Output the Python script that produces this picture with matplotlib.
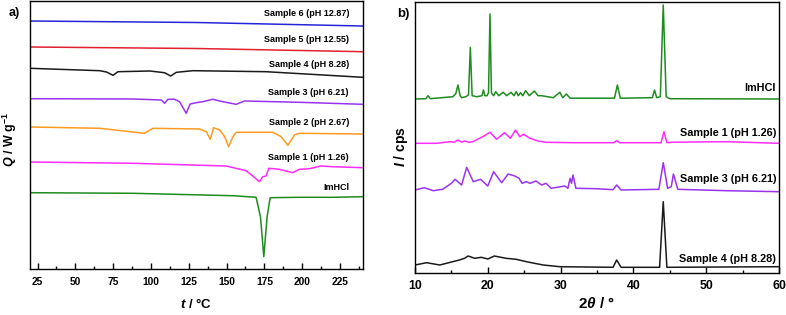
import numpy as np
import matplotlib.pyplot as plt

# Fuente tipo Arial en negrita para todo el dibujo
plt.rcParams['font.family'] = ['Liberation Sans', 'DejaVu Sans']
plt.rcParams['font.weight'] = 'bold'
plt.rcParams['mathtext.fontset'] = 'custom'
plt.rcParams['mathtext.rm'] = 'Liberation Sans:bold'
plt.rcParams['mathtext.it'] = 'Liberation Sans:bold:italic'
plt.rcParams['mathtext.bf'] = 'Liberation Sans:bold'
plt.rcParams['mathtext.default'] = 'rm'

# ---------------- Datos DSC (panel a), unidades arbitrarias ----------------
t_s6 = [20, 130, 240]
q_s6 = [248, 246.5, 243]

t_s5 = [20, 130, 240]
q_s5 = [222, 220.5, 217.3]

t_s4 = [20, 66.2, 70.6, 74.9, 78.2, 99.2, 109.0, 113.0, 116.8, 127.7, 176.1, 202.5, 240]
q_s4 = [200.7, 198.3, 197, 193.7, 197.3, 198, 196.3, 193, 196.7, 198.3, 197.3, 195, 191.7]

t_s3 = [20, 88.2, 106.9, 109.0, 111.2, 115.6, 118.9, 123.3, 125.9, 129.9, 134.3, 140.9,
        147.5, 156.3, 161.8, 198.1, 240]
q_s3 = [170.3, 170, 169, 165.7, 169.7, 169.7, 167.3, 155.7, 165, 166.3, 167.3, 169.7,
        167.3, 164.7, 168, 166.7, 164.7]

t_s2 = [20, 66.2, 95.6, 101.3, 132.2, 136.6, 139.2, 141.4, 145.4, 148.7, 151.3, 154.2,
        156.4, 180.6, 186.1, 190.5, 194.9, 198.1, 240]
q_s2 = [142, 140.7, 135.7, 140.7, 140, 137.3, 129.7, 141.3, 139, 132.3, 122.3, 132.3,
        136.7, 136.7, 132.3, 123.7, 134, 135.7, 135]

t_s1 = [20, 88.2, 149.7, 162.9, 167.3, 171.7, 173.9, 176.1, 177.9, 184.9, 193.7, 198.1,
        204.7, 212.4, 220.0, 240]
q_s1 = [107, 105.7, 103, 98.3, 93, 87.3, 92.3, 93, 100.7, 99.7, 96.3, 99.7,
        100.3, 103, 102.3, 101.3]

t_im = [20, 88.2, 154.1, 169.5, 172.4, 174.6, 176.8, 178.8, 198.1, 220, 240]
q_im = [76.3, 75.7, 73.3, 71.7, 52.3, 12.3, 52.3, 71.3, 71.7, 71.7, 72.3]

# ---------------- Datos DRX (panel b), unidades arbitrarias ----------------
th_im = [10, 11.5, 11.8, 12.1, 15.2, 15.6, 15.9, 16.2, 16.4, 17.0, 17.35, 17.6, 17.85,
         18.5, 19.2, 19.4, 19.6, 19.9, 20.1, 20.3, 20.5, 20.8, 21.1, 21.5, 22.1, 22.6,
         23.2, 23.6, 23.9, 24.2, 24.5, 24.8, 25.2, 25.7, 26.4, 26.9, 27.4, 29.0, 29.9,
         30.3, 30.8, 31.3, 37.4, 37.8, 38.2, 42.6, 42.9, 43.2, 43.7, 44.1, 44.5, 45.0, 60]
i_im = [173.7, 174, 177, 174, 176, 179, 187.7, 177, 175, 176, 178, 225.3, 177,
        176, 177, 182.7, 177, 177, 180, 258.7, 180, 177, 181, 177, 180.4, 177,
        180.4, 177, 181, 177, 180, 177, 182, 177, 181.7, 177, 177, 175, 180.4,
        175, 178.7, 174.5, 174.5, 187.7, 174.5, 175, 182.7, 175, 176, 267.7, 176, 174, 173.7]

th_s1 = [10, 13.0, 14.8, 15.4, 15.9, 16.4, 16.8, 17.4, 18.0, 18.4, 19.3, 20.3, 21.2, 22.3,
         23.1, 23.8, 24.4, 24.9, 25.8, 26.9, 28.0, 31.7, 37.3, 37.7, 38.1, 43.1, 43.8,
         44.2, 44.6, 45.5, 52.8, 60]
i_s1 = [129.4, 129.4, 131, 130.5, 132.7, 130.5, 131.7, 130.5, 131, 132.7, 136, 140.4,
        133.4, 140, 134.4, 142.7, 136, 138.4, 134.4, 131.7, 130.4, 130, 130, 132, 130,
        130, 130, 141, 130, 130.5, 131, 129.4]

th_s3 = [10, 11.3, 12.5, 13.8, 15.0, 15.5, 16.4, 17.1, 18.0, 19.0, 20.0, 20.8, 21.9, 22.8,
         23.7, 24.3, 24.7, 25.3, 25.8, 26.6, 27.4, 28.0, 28.7, 30.6, 31.0, 31.3, 31.5,
         31.7, 32.1, 34.9, 37.2, 37.7, 38.3, 43.5, 44.1, 44.7, 45.2, 45.5, 46.1, 52.8, 60]
i_s3 = [82.7, 85, 82, 83.4, 89.4, 93.4, 87.7, 105.4, 91, 93.4, 86.7, 101, 90, 98.7,
        96.7, 94.4, 89.4, 91, 89.4, 91.7, 87.7, 89.4, 84.4, 86.7, 84.4, 94.4, 89.4,
        97.7, 84.4, 84, 83, 87.7, 82.7, 83.4, 110, 84.4, 86, 98.7, 83.4, 82, 81]

th_s4 = [10, 11.6, 13.4, 16.1, 16.8, 17.3, 18.2, 19.1, 20.0, 20.9, 22.5, 23.9, 25.3, 27.6,
         29.9, 37.2, 37.7, 38.3, 43.6, 44.1, 44.6, 60]
i_s4 = [7.7, 10, 7.7, 12.7, 14.4, 16.7, 14.4, 15.4, 13.7, 16.7, 14.4, 13.4, 11, 7.7,
        6, 5.4, 12.7, 5.4, 5.4, 71, 5.4, 6]

# ---------------- Figura ----------------
fig = plt.figure(figsize=(7.86, 3.15), dpi=100)
ax1 = fig.add_axes([30 / 786, 1 - 269 / 315, 332.7 / 786, 268 / 315])
ax2 = fig.add_axes([415 / 786, 1 - 272.7 / 315, 364 / 786, 270.7 / 315])

# Panel a) DSC
curvas_a = [
    (t_s6, q_s6, '#2626d9', 'Sample 6 (pH 12.87)', 14),
    (t_s5, q_s5, '#e0222e', 'Sample 5 (pH 12.55)', 40),
    (t_s4, q_s4, '#1a1a1a', 'Sample 4 (pH 8.28)', 65),
    (t_s3, q_s3, '#9a33f0', 'Sample 3 (pH 6.21)', 92),
    (t_s2, q_s2, '#ff9a1f', 'Sample 2 (pH 2.67)', 123),
    (t_s1, q_s1, '#ff2bff', 'Sample 1 (pH 1.26)', 157),
    (t_im, q_im, '#1e8c1e', 'ImHCl', 187),
]
for t, q, c, etiqueta, ypix in curvas_a:
    ax1.plot(t, q, color=c, lw=1.1)
    fig.text(349 / 786, 1 - ypix / 315, etiqueta, fontsize=6.5, ha='right', va='center')

ax1.set_xlim(20, 240)
ax1.set_ylim(0, 268)
ax1.set_xticks([25, 50, 75, 100, 125, 150, 175, 200, 225])
ax1.set_xticks(np.arange(37.5, 240, 25), minor=True)
ax1.set_yticks([])

# Panel b) DRX
curvas_b = [
    (th_im, i_im, '#1e8c1e', 'ImHCl', 88),
    (th_s1, i_s1, '#ff2bff', 'Sample 1 (pH 1.26)', 133),
    (th_s3, i_s3, '#9a33f0', 'Sample 3 (pH 6.21)', 179),
    (th_s4, i_s4, '#1a1a1a', 'Sample 4 (pH 8.28)', 259),
]
for th, inten, c, etiqueta, ypix in curvas_b:
    ax2.plot(th, inten, color=c, lw=1.1)
    fig.text(776 / 786, 1 - ypix / 315, etiqueta, fontsize=7.8, ha='right', va='center')

ax2.set_xlim(10, 60)
ax2.set_ylim(0, 270.7)
ax2.set_xticks([10, 20, 30, 40, 50, 60])
ax2.set_xticks([15, 25, 35, 45, 55], minor=True)
ax2.set_yticks([])

for ax, fs, pad in ((ax1, 7.4, 6), (ax2, 8.8, 5)):
    ax.tick_params(axis='x', which='major', direction='in', length=4, width=1, labelsize=fs, pad=pad)
    ax.tick_params(axis='x', which='minor', direction='in', length=2.5, width=1)
    for s in ax.spines.values():
        s.set_linewidth(1.0)

# Rótulos
fig.text(14 / 786, 1 - 13 / 315, 'a)', fontsize=9, ha='center', va='center')
fig.text(403 / 786, 1 - 14 / 315, 'b)', fontsize=9.5, ha='center', va='center')
fig.text(10 / 786, 1 - 140 / 315, r'$\mathit{Q}$ / W g$^{-1}$', fontsize=9, rotation=90,
         ha='center', va='center')
fig.text(401 / 786, 1 - 147 / 315, r'$\mathit{I}$ / cps', fontsize=10, rotation=90,
         ha='center', va='center')
fig.text(196 / 786, 1 - 304 / 315, r'$\mathit{t}$ / °C', fontsize=9.5, ha='center', va='center')
fig.text(597 / 786, 1 - 303 / 315, r'2$\mathit{\theta}$ / °', fontsize=11, ha='center', va='center')

fig.savefig('out.png', dpi=100)
